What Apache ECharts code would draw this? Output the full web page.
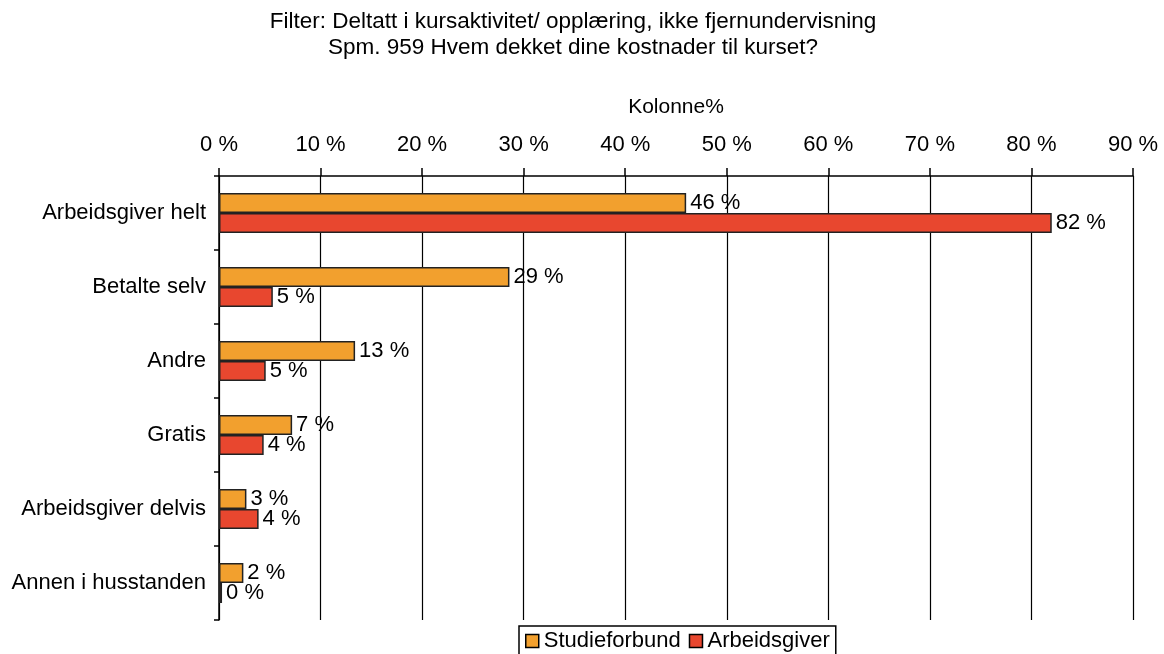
<!DOCTYPE html>
<html lang="no">
<head>
    <meta charset="UTF-8">
    <title>Kostnader til kurset</title>
    <style>
        html, body { margin: 0; padding: 0; background: #fff; }
    </style>
</head>
<body>
<div id="main" style="width: 1164px;height:654px;"></div>
<script src="https://cdn.jsdelivr.net/npm/echarts@6/dist/echarts.min.js"></script>
<script>
    // kategorier (ovenfra og ned)
    var categories = ['Arbeidsgiver helt', 'Betalte selv', 'Andre', 'Gratis', 'Arbeidsgiver delvis', 'Annen i husstanden'];
    // Kolonne%
    var studieforbund = [46, 28.6, 13.4, 7.2, 2.7, 2.4];
    var arbeidsgiver = [82, 5.3, 4.6, 4.4, 3.9, 0.3];
    var tickLabels = ['0 %', '10 %', '20 %', '30 %', '40 %', '50 %', '60 %', '70 %', '80 %', '90 %'];

    var font = 'Liberation Sans, Arial, sans-serif';

    var myChart = echarts.init(document.getElementById('main'));

    var labelOpt = {
        show: true,
        position: 'right',
        distance: 4,
        color: '#000',
        fontSize: 22,
        fontFamily: font,
        formatter: function (p) {
            return Math.round(p.value) + ' %';
        }
    };

    var option = {
        backgroundColor: '#fff',
        animation: false,
        title: {
            text: 'Filter: Deltatt i kursaktivitet/ opplæring, ikke fjernundervisning\nSpm. 959 Hvem dekket dine kostnader til kurset?',
            left: 568,
            top: 4,
            textAlign: 'center',
            textStyle: {
                fontSize: 22.5,
                fontWeight: 'normal',
                color: '#000',
                fontFamily: font,
                lineHeight: 26,
                align: 'center'
            }
        },
        legend: {
            bottom: -6,
            left: 519,
            data: ['Studieforbund', 'Arbeidsgiver'],
            itemWidth: 13,
            itemHeight: 13,
            itemGap: 8,
            icon: 'rect',
            borderColor: '#000',
            borderWidth: 1.5,
            padding: [4, 6, 8, 6],
            textStyle: {
                fontSize: 22,
                color: '#000',
                fontFamily: font
            },
            itemStyle: {
                borderColor: '#000',
                borderWidth: 1.5
            }
        },
        grid: {
            left: 219,
            right: 31,
            top: 176,
            bottom: 34,
            containLabel: false
        },
        xAxis: {
            type: 'value',
            position: 'top',
            min: 0,
            max: 90,
            interval: 10,
            name: 'Kolonne%',
            nameLocation: 'middle',
            nameGap: 58,
            nameTextStyle: {
                fontSize: 21,
                color: '#000',
                fontFamily: font
            },
            axisLine: { show: true, lineStyle: { color: '#000', width: 1.5 } },
            axisTick: { show: true, length: 8, lineStyle: { color: '#000', width: 1.5 } },
            axisLabel: {
                margin: 20,
                fontSize: 22,
                color: '#000',
                fontFamily: font,
                formatter: function (v) {
                    return tickLabels[Math.round(v / 10)];
                }
            },
            splitLine: { show: true, lineStyle: { color: '#000', width: 1.2 } }
        },
        yAxis: {
            type: 'category',
            inverse: true,
            data: categories,
            axisLine: { show: true, lineStyle: { color: '#000', width: 1.5 } },
            axisTick: { show: true, length: 5, lineStyle: { color: '#000', width: 1.5 } },
            axisLabel: {
                margin: 13,
                fontSize: 22,
                color: '#000',
                fontFamily: font
            }
        },
        series: [
            {
                name: 'Studieforbund',
                type: 'bar',
                data: studieforbund,
                barWidth: 20,
                barGap: '0%',
                itemStyle: {
                    color: '#F2A02E',
                    borderColor: '#222',
                    borderWidth: 1.5
                },
                label: labelOpt
            },
            {
                name: 'Arbeidsgiver',
                type: 'bar',
                data: arbeidsgiver,
                barWidth: 20,
                barGap: '0%',
                itemStyle: {
                    color: '#E8472F',
                    borderColor: '#222',
                    borderWidth: 1.5
                },
                label: labelOpt
            }
        ]
    };

    myChart.setOption(option);
</script>
</body>
</html>
